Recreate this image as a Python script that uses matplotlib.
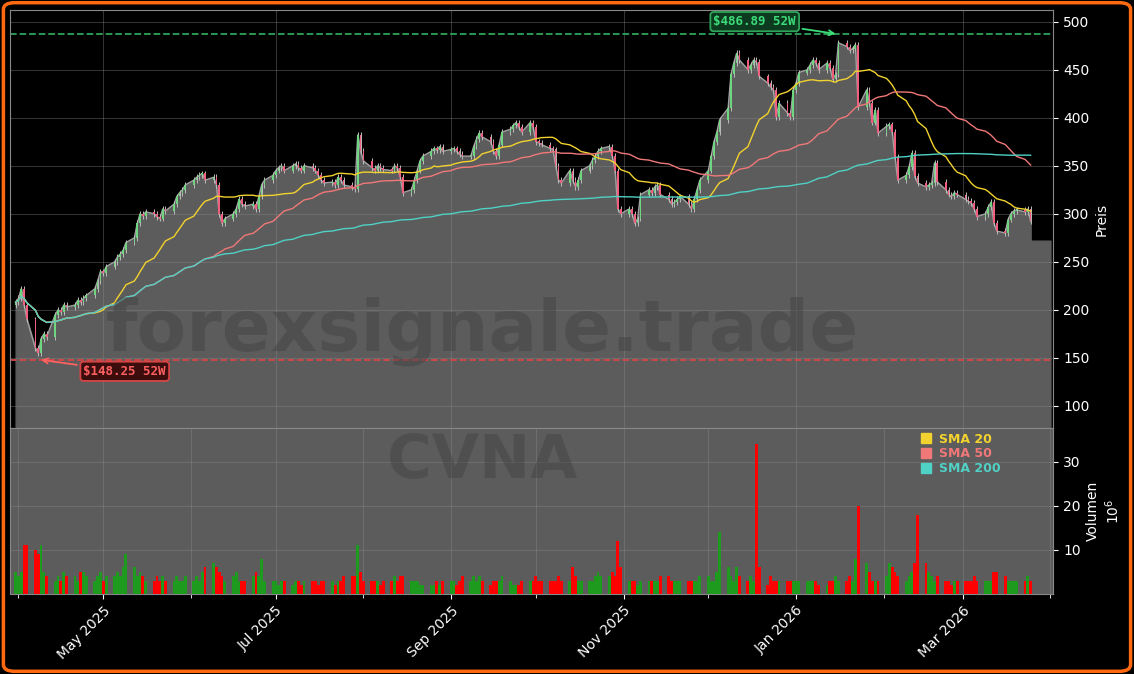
import matplotlib
matplotlib.use("Agg")
import matplotlib.pyplot as plt
import matplotlib.dates as mdates
from matplotlib.patches import FancyBboxPatch
from matplotlib.lines import Line2D
import numpy as np
import pandas as pd

# daily closes, one row per week (Mon..Fri), starting 2025-03-31
CLOSE = [
    208, 212, 222, 205, 190,
    160, 155, 170, 175, 172,
    195, 200, 198, 205, 203,
    205, 210, 208, 212, 215,
    222, 230, 240, 238, 245,
    250, 255, 258, 262, 270,
    275, 290, 300, 298, 302,
    300, 297, 295, 305, 303,
    310, 318, 322, 325, 330,
    335, 338, 340, 342, 335,
    338, 330, 300, 290, 295,
    300, 305, 315, 310, 308,
    310, 305, 318, 330, 335,
    340, 345, 348, 350, 345,
    350, 352, 348, 345, 350,
    348, 345, 340, 335, 332,
    333, 330, 338, 335, 330,
    328, 326, 382, 365, 355,
    348, 345, 350, 348, 346,
    345, 350, 348, 338, 322,
    325, 335, 345, 355, 360,
    365, 368, 366, 370, 365,
    367, 368, 365, 362, 360,
    360, 370, 378, 384, 380,
    375, 365, 360, 372, 385,
    388, 392, 395, 390, 385,
    395, 390, 375, 374, 372,
    368, 367, 350, 335, 332,
    345, 335, 328, 335, 345,
    350, 356, 360, 365, 368,
    370, 360, 345, 305, 300,
    305, 300, 290, 295, 320,
    325, 322, 328, 330, 320,
    315, 310, 312, 315, 318,
    310, 305, 315, 325, 335,
    345, 360, 375, 385, 398,
    410, 445, 457, 467, 460,
    450, 455, 460, 458, 443,
    436, 432, 429, 401, 415,
    405, 401, 429, 436, 447,
    450, 455, 460, 457, 450,
    457, 452, 440, 445, 478,
    474, 470, 472, 476, 411,
    429, 415, 395, 408, 384,
    391, 393, 385, 359, 335,
    340, 349, 363, 339, 332,
    328, 330, 332, 353, 333,
    325, 320, 318, 322, 320,
    315, 313, 311, 305, 297,
    300, 307, 312, 290, 282,
    280, 294, 300, 303, 304,
    302, 305, 292,
]
VOLUME = [
    5, 4, 5, 11, 11,
    10, 9, 11, 5, 4,
    3, 4, 3, 5, 4,
    4, 3, 5, 5, 4,
    3, 4, 5, 3, 4,
    4, 5, 4, 6, 9,
    6, 4, 5, 4, 3,
    3, 4, 3, 4, 3,
    3, 4, 3, 3, 4,
    3, 4, 3, 5, 6,
    7, 6, 5, 4, 3,
    4, 5, 3, 3, 3,
    4, 5, 4, 8, 3,
    3, 3, 2, 3, 3,
    2, 3, 3, 2, 3,
    3, 3, 2, 3, 3,
    3, 2, 3, 3, 4,
    4, 4, 11, 5, 3,
    3, 3, 3, 2, 3,
    3, 4, 3, 4, 4,
    3, 3, 3, 2, 2,
    2, 2, 3, 2, 3,
    3, 3, 2, 3, 4,
    3, 4, 3, 4, 3,
    2, 3, 3, 3, 4,
    3, 2, 2, 2, 3,
    3, 3, 4, 3, 3,
    3, 3, 3, 4, 3,
    3, 6, 4, 3, 3,
    3, 3, 4, 5, 4,
    4, 5, 4, 12, 6,
    3, 3, 3, 2, 3,
    3, 3, 3, 3, 4,
    4, 3, 3, 3, 3,
    3, 3, 3, 3, 4,
    4, 3, 3, 5, 14,
    6, 4, 3, 6, 4,
    3, 4, 3, 34, 6,
    2, 4, 3, 3, 3,
    3, 3, 3, 3, 3,
    3, 3, 3, 3, 2,
    2, 3, 3, 4, 3,
    3, 4, 3, 8, 20,
    7, 5, 3, 3, 3,
    4, 7, 6, 5, 4,
    3, 4, 5, 7, 18,
    7, 5, 4, 3, 4,
    3, 3, 2, 3, 3,
    3, 3, 3, 4, 3,
    3, 3, 3, 5, 5,
    4, 3, 3, 3, 3,
    3, 4, 3,
]
HIGH_52W, LOW_52W = 486.89, 148.25
TAIL_LEVEL = 272

BG = "#000000"
FILL = "#5c5c5c"
UP, DOWN = "#6fd67f", "#f0607e"
C20, C50, C200 = "#f2d22e", "#f07878", "#4fd1c5"

dates = pd.bdate_range("2025-03-31", periods=len(CLOSE))
close = pd.Series(CLOSE, index=dates, dtype=float)
opn = close.shift(1).fillna(close.iloc[0] - 3)
hi = np.maximum(opn, close) + 3
lo = np.minimum(opn, close) - 3
sma20 = close.rolling(20, min_periods=1).mean()
sma50 = close.rolling(50, min_periods=1).mean()
sma200 = close.rolling(200, min_periods=1).mean()
up = close >= opn

fig = plt.figure(figsize=(11.34, 6.74), dpi=100)
fig.patch.set_facecolor(BG)
ax = fig.add_axes([0.0088, 0.365, 0.92, 0.62])
av = fig.add_axes([0.0088, 0.119, 0.92, 0.246], sharex=ax)

ax.set_facecolor(BG)
tail_x = [dates[-1], pd.Timestamp("2026-04-01")]
ax.fill_between(list(dates) + tail_x, list(CLOSE) + [TAIL_LEVEL, TAIL_LEVEL],
                0, color=FILL, zorder=1)
ax.plot(dates, close, color="#a0a0a0", lw=1, zorder=2)
ax.vlines(dates, lo, hi, color="#bbbbbb", lw=0.7, zorder=3)
ax.bar(dates, np.abs(close - opn).clip(lower=1.5), bottom=np.minimum(opn, close),
       width=0.6, color=np.where(up, UP, DOWN), zorder=4)
ax.plot(dates, sma20, color=C20, lw=1, zorder=5)
ax.plot(dates, sma50, color=C50, lw=1, zorder=5)
ax.plot(dates, sma200, color=C200, lw=1, zorder=5)
ax.axhline(HIGH_52W, color="#2ea55a", ls="--", lw=1.3, zorder=2)
ax.axhline(LOW_52W, color="#d64545", ls="--", lw=1.3, zorder=2)

hi_day = close.idxmax()
lo_day = close.idxmin()
ax.annotate(f"${HIGH_52W:.2f} 52W", xy=(hi_day, HIGH_52W),
            xytext=(hi_day - pd.Timedelta(days=15), 500), ha="right", va="center",
            color="#3ddc7a", fontsize=9, fontweight="bold", family="monospace",
            bbox=dict(boxstyle="round,pad=0.25", fc="#0d3b1f", ec="#2ea55a", lw=1.3),
            arrowprops=dict(arrowstyle="->", color="#3ddc7a", lw=1.3), zorder=8)
ax.annotate(f"${LOW_52W:.2f} 52W", xy=(lo_day, LOW_52W),
            xytext=(lo_day + pd.Timedelta(days=16), 136), ha="left", va="center",
            color="#ff6060", fontsize=9, fontweight="bold", family="monospace",
            bbox=dict(boxstyle="round,pad=0.25", fc="#3b0d0d", ec="#d64545", lw=1.3),
            arrowprops=dict(arrowstyle="->", color="#ff6060", lw=1.3), zorder=8)

ax.set_ylim(77, 512)
ax.set_xlim(pd.Timestamp("2025-03-29"), pd.Timestamp("2026-04-02"))
ax.yaxis.tick_right()
ax.yaxis.set_label_position("right")
ax.set_yticks(range(100, 501, 50))
ax.set_ylabel("Preis", color="white", fontsize=10)
ax.tick_params(axis="x", which="both", labelbottom=False, length=0)

av.set_facecolor(FILL)
av.bar(dates, VOLUME, width=1.0, color=np.where(up, "#1e9a1e", "#ff0000"), zorder=3)
av.set_ylim(0, 37.7)
av.set_yticks([10, 20, 30])
av.yaxis.tick_right()
av.yaxis.set_label_position("right")
av.set_ylabel("Volumen\n$10^6$", color="white", fontsize=10)
av.xaxis.set_major_locator(mdates.MonthLocator(bymonth=[1, 3, 5, 7, 9, 11]))
av.xaxis.set_major_formatter(mdates.DateFormatter("%b %Y"))
av.xaxis.set_minor_locator(mdates.MonthLocator())
plt.setp(av.get_xticklabels(), rotation=45, ha="right", rotation_mode="anchor")

for a in (ax, av):
    a.grid(True, which="major", color="#8a8a8a", lw=0.6, alpha=0.45)
    a.tick_params(colors="white", labelsize=10)
    for s in a.spines.values():
        s.set_color("#888888")
av.grid(True, which="minor", axis="x", color="#8a8a8a", lw=0.6, alpha=0.45)
av.tick_params(axis="x", which="minor", colors="white", length=3)

handles = [Line2D([], [], marker="s", ls="", color=c, markersize=7)
           for c in (C20, C50, C200)]
leg = av.legend(handles, ["SMA 20", "SMA 50", "SMA 200"], loc="upper left",
                bbox_to_anchor=(0.855, 1.04), frameon=False, handletextpad=0.1,
                labelspacing=0.15, prop={"weight": "bold", "size": 9})
for t, c in zip(leg.get_texts(), (C20, C50, C200)):
    t.set_color(c)

fig.text(0.425, 0.508, "forexsignale.trade", ha="center", va="center",
         fontsize=52, fontweight="bold", color="#444444", alpha=0.5, zorder=0)
fig.text(0.425, 0.315, "CVNA", ha="center", va="center",
         fontsize=44, fontweight="bold", color="#444444", alpha=0.5, zorder=0)

fig.patches.append(FancyBboxPatch((0.003, 0.004), 0.994, 0.992,
                                  boxstyle="round,pad=0,rounding_size=0.01",
                                  transform=fig.transFigure, fill=False,
                                  ec="#ff6a10", lw=2.5))
fig.savefig("out.png", facecolor=BG)
